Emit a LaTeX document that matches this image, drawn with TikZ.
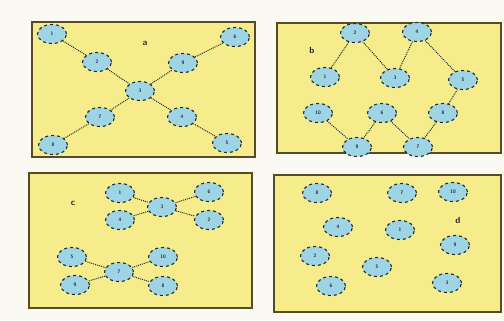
\documentclass[tikz,border=0pt]{standalone}
\usepackage{amsmath,amsfonts,amssymb}
\usepackage{tikz}
\usetikzlibrary{shapes.geometric}

\definecolor{paper}{RGB}{250,249,242}
\definecolor{panelfill}{RGB}{246,236,140}
\definecolor{panelline}{RGB}{85,75,40}
\definecolor{nodefill}{RGB}{158,212,228}
\definecolor{nodeline}{RGB}{30,45,45}

\begin{document}
\begin{tikzpicture}[x=1bp,y=-1bp,
		node_style/.style={ellipse,draw=nodeline,dashed,line width=1.1pt,fill=nodefill,minimum width=29bp,minimum height=19bp,inner sep=0pt,font=\tiny\sffamily\bfseries,text=nodeline!80!blue},
		edge_style/.style={draw=nodeline,densely dotted,line width=1pt},
		panel_style/.style={draw=panelline,fill=panelfill,line width=1.2pt},
		tag_style/.style={font=\small\sffamily\bfseries,text=black!85}]
		
		\useasboundingbox[fill=paper] (0,0) rectangle (504,320);
		\draw[panel_style] (32,22) rectangle (255,157);
		\draw[panel_style] (277,23) rectangle (501,153);
		\draw[panel_style] (29,173) rectangle (252,308);
		\draw[panel_style] (274,175) rectangle (501,312);
		
		% a
		\node[tag_style] (ta) at (145,43) {a};
		\node[node_style] (a1) at (52,34) {1};
		\node[node_style] (a2) at (97,62) {2};
		\node[node_style] (a3) at (140,91) {3};
		\node[node_style] (a9) at (183,63) {9};
		\node[node_style] (a6) at (235,37) {6};
		\node[node_style] (a7) at (100,117) {7};
		\node[node_style] (a8) at (53,145) {8};
		\node[node_style] (a4) at (182,117) {4};
		\node[node_style] (a5) at (227,143) {5};
		
		\draw[edge_style]  (a1) edge (a2);
		\draw[edge_style]  (a2) edge (a3);
		\draw[edge_style]  (a3) edge (a9);
		\draw[edge_style]  (a9) edge (a6);
		\draw[edge_style]  (a3) edge (a7);
		\draw[edge_style]  (a7) edge (a8);
		\draw[edge_style]  (a3) edge (a4);
		\draw[edge_style]  (a4) edge (a5);
		
		% b
		\node[tag_style] (tb) at (312,50) {b};
		\node[node_style] (b2) at (355,33) {2};
		\node[node_style] (b4) at (417,32) {4};
		\node[node_style] (b1) at (325,77) {1};
		\node[node_style] (b3) at (395,78) {3};
		\node[node_style] (b5) at (463,80) {5};
		\node[node_style] (b10) at (318,113) {10};
		\node[node_style] (b6) at (382,113) {6};
		\node[node_style] (b8) at (443,113) {8};
		\node[node_style] (b9) at (357,147) {9};
		\node[node_style] (b7) at (418,147) {7};
		
		\draw[edge_style]  (b2) edge (b1);
		\draw[edge_style]  (b2) edge (b3);
		\draw[edge_style]  (b4) edge (b3);
		\draw[edge_style]  (b4) edge (b5);
		\draw[edge_style]  (b5) edge (b8);
		\draw[edge_style]  (b8) edge (b7);
		\draw[edge_style]  (b6) edge (b7);
		\draw[edge_style]  (b6) edge (b9);
		\draw[edge_style]  (b10) edge (b9);
		
		% c
		\node[tag_style] (tc) at (73,203) {c};
		\node[node_style] (c1) at (120,193) {1};
		\node[node_style] (c4) at (120,220) {4};
		\node[node_style] (c3) at (162,207) {3};
		\node[node_style] (c6) at (209,192) {6};
		\node[node_style] (c2) at (209,220) {2};
		\node[node_style] (c5) at (72,257) {5};
		\node[node_style] (c9) at (75,285) {9};
		\node[node_style] (c7) at (119,272) {7};
		\node[node_style] (c10) at (163,257) {10};
		\node[node_style] (c8) at (163,286) {8};
		
		\draw[edge_style]  (c1) edge (c3);
		\draw[edge_style]  (c4) edge (c3);
		\draw[edge_style]  (c3) edge (c6);
		\draw[edge_style]  (c3) edge (c2);
		\draw[edge_style]  (c5) edge (c7);
		\draw[edge_style]  (c9) edge (c7);
		\draw[edge_style]  (c7) edge (c10);
		\draw[edge_style]  (c7) edge (c8);
		
		% d
		\node[tag_style] (td) at (458,220) {d};
		\node[node_style] (d8) at (317,193) {8};
		\node[node_style] (d7) at (402,193) {7};
		\node[node_style] (d10) at (453,192) {10};
		\node[node_style] (d4) at (338,227) {4};
		\node[node_style] (d1) at (400,230) {1};
		\node[node_style] (d9) at (455,245) {9};
		\node[node_style] (d2) at (315,256) {2};
		\node[node_style] (d5) at (377,267) {5};
		\node[node_style] (d6) at (331,286) {6};
		\node[node_style] (d3) at (447,283) {3};
		
		\end{tikzpicture}
\end{document}
